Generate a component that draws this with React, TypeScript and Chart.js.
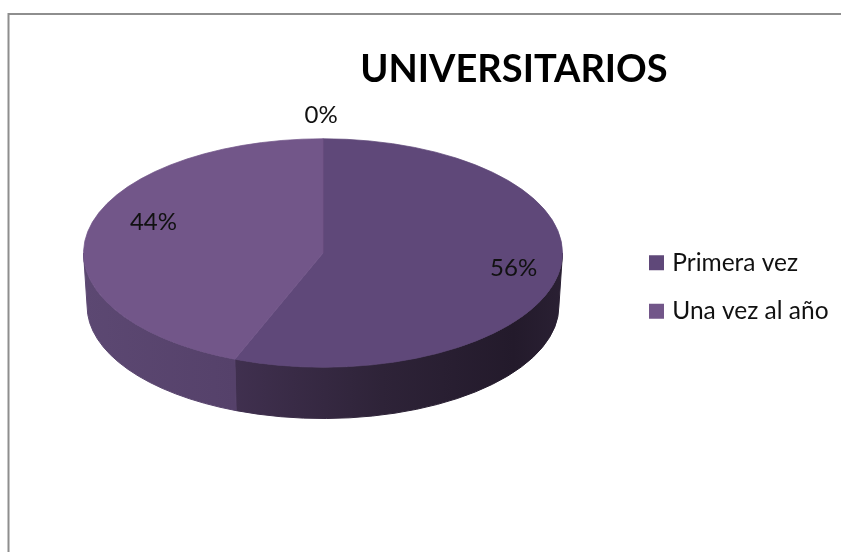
import React, { useEffect, useRef } from "react";
import { Chart, registerables } from "chart.js";

Chart.register(...registerables);

const chartTitle = "UNIVERSITARIOS";
const categories = ["Primera vez", "Una vez al año", ""];
const shares = [56, 44, 0];
const sliceColors = ["#5f4879", "#725689", "#8a6ca3"];
const sliceEdges = ["#5f4879", "#725689", "rgba(0,0,0,0)"];

const FONT = "Lato, 'Open Sans', sans-serif";
const TILT = 0.477;
const DEPTH = 53;
const BOTTOM_NARROW = 0.985;
// label anchor in units of the pie's radii
const labelAnchors = [
  [0.796, 0.131],
  [-0.708, -0.271],
  [-0.008, -1.205],
];
const wallStops = [
  [[0, "#40304f"], [0.45, "#2e2338"], [0.85, "#231a2b"], [1, "#2a2033"]],
  [[0, "#5c4872"], [1, "#55416a"]],
  [[0, "#55416a"], [1, "#55416a"]],
];

const frame = {
  id: "frame",
  beforeDraw(chart: any) {
    const { ctx, width, height } = chart;
    ctx.save();
    ctx.fillStyle = "#ffffff";
    ctx.fillRect(0, 0, width, height);
    ctx.strokeStyle = "#8e8e8e";
    ctx.lineWidth = 2;
    ctx.beginPath();
    ctx.moveTo(8.5, height);
    ctx.lineTo(8.5, 14);
    ctx.lineTo(width, 14);
    ctx.stroke();
    ctx.restore();
  },
};

const placeBoxes = {
  id: "placeBoxes",
  afterLayout(chart: any) {
    Object.assign(chart.titleBlock, { left: 187, right: 841, top: 47, bottom: 95 });
    Object.assign(chart.legend, { left: 629, right: 841, top: 226.5, bottom: 420 });
  },
};

const tilted = {
  id: "tilted",
  beforeDatasetsDraw(chart: any) {
    const { ctx } = chart;
    const arcs = chart.getDatasetMeta(0).data;
    arcs.forEach((arc: any, i: number) => {
      const { x, y, startAngle, endAngle, outerRadius: r } = arc.getProps(
        ["x", "y", "startAngle", "endAngle", "outerRadius"],
        true
      );
      const from = Math.max(startAngle, 0);
      const to = Math.min(endAngle, Math.PI);
      if (to <= from) return;
      const ry = r * TILT;
      const g = ctx.createLinearGradient(
        x + r * Math.cos(to),
        0,
        x + r * Math.cos(from),
        0
      );
      wallStops[i].forEach(([o, c]: any) => g.addColorStop(o, c));
      ctx.save();
      ctx.fillStyle = g;
      ctx.strokeStyle = g;
      ctx.lineWidth = 1;
      ctx.beginPath();
      ctx.ellipse(x, y, r, ry, 0, from, to, false);
      ctx.ellipse(x, y + DEPTH, r * BOTTOM_NARROW, ry * BOTTOM_NARROW, 0, to, from, true);
      ctx.closePath();
      ctx.fill();
      ctx.stroke();
      ctx.restore();
    });
    const first = arcs[0];
    ctx.save();
    ctx.translate(first.x, first.y);
    ctx.scale(1, TILT);
    ctx.translate(-first.x, -first.y);
  },
  afterDatasetsDraw(chart: any) {
    const { ctx } = chart;
    ctx.restore();
    const arcs = chart.getDatasetMeta(0).data;
    ctx.save();
    ctx.font = `24px ${FONT}`;
    ctx.fillStyle = "#111111";
    ctx.textAlign = "center";
    ctx.textBaseline = "middle";
    arcs.forEach((arc: any, i: number) => {
      const r = arc.outerRadius;
      ctx.fillText(
        `${shares[i]}%`,
        arc.x + labelAnchors[i][0] * r,
        arc.y + labelAnchors[i][1] * r * TILT
      );
    });
    ctx.restore();
  },
};

export default function App() {
  const ref = useRef<HTMLCanvasElement>(null);
  useEffect(() => {
    const baseLabels = (Chart as any).overrides.pie.plugins.legend.labels.generateLabels;
    const chart = new Chart(ref.current!, {
      type: "pie",
      data: {
        labels: categories,
        datasets: [
          {
            data: shares,
            backgroundColor: sliceColors,
            borderColor: sliceEdges,
            borderWidth: 1,
            clip: false,
          } as any,
        ],
      },
      options: {
        responsive: false,
        animation: false,
        radius: 239.5,
        layout: { padding: { left: 83, right: 278, top: 0, bottom: 91.6 } },
        plugins: {
          tooltip: { enabled: false },
          title: {
            display: true,
            text: chartTitle,
            color: "#000000",
            font: { family: FONT, size: 38, weight: "bold" },
            padding: 0,
          },
          legend: {
            position: "chartArea",
            align: "start",
            labels: {
              boxWidth: 7,
              boxHeight: 7,
              padding: 24,
              color: "#111111",
              font: { family: FONT, size: 24.5 },
              generateLabels: (c: any) =>
                baseLabels(c).map((item: any) => ({
                  ...item,
                  strokeStyle: item.fillStyle,
                  lineWidth: 8,
                })),
              filter: (item: any) => item.text !== "",
            },
          },
        },
      } as any,
      plugins: [frame, placeBoxes, tilted],
    });
    return () => chart.destroy();
  }, []);
  return (
    <canvas
      ref={ref}
      width={841}
      height={552}
      style={{ position: "absolute", left: 0, top: 0, display: "block" }}
    />
  );
}
